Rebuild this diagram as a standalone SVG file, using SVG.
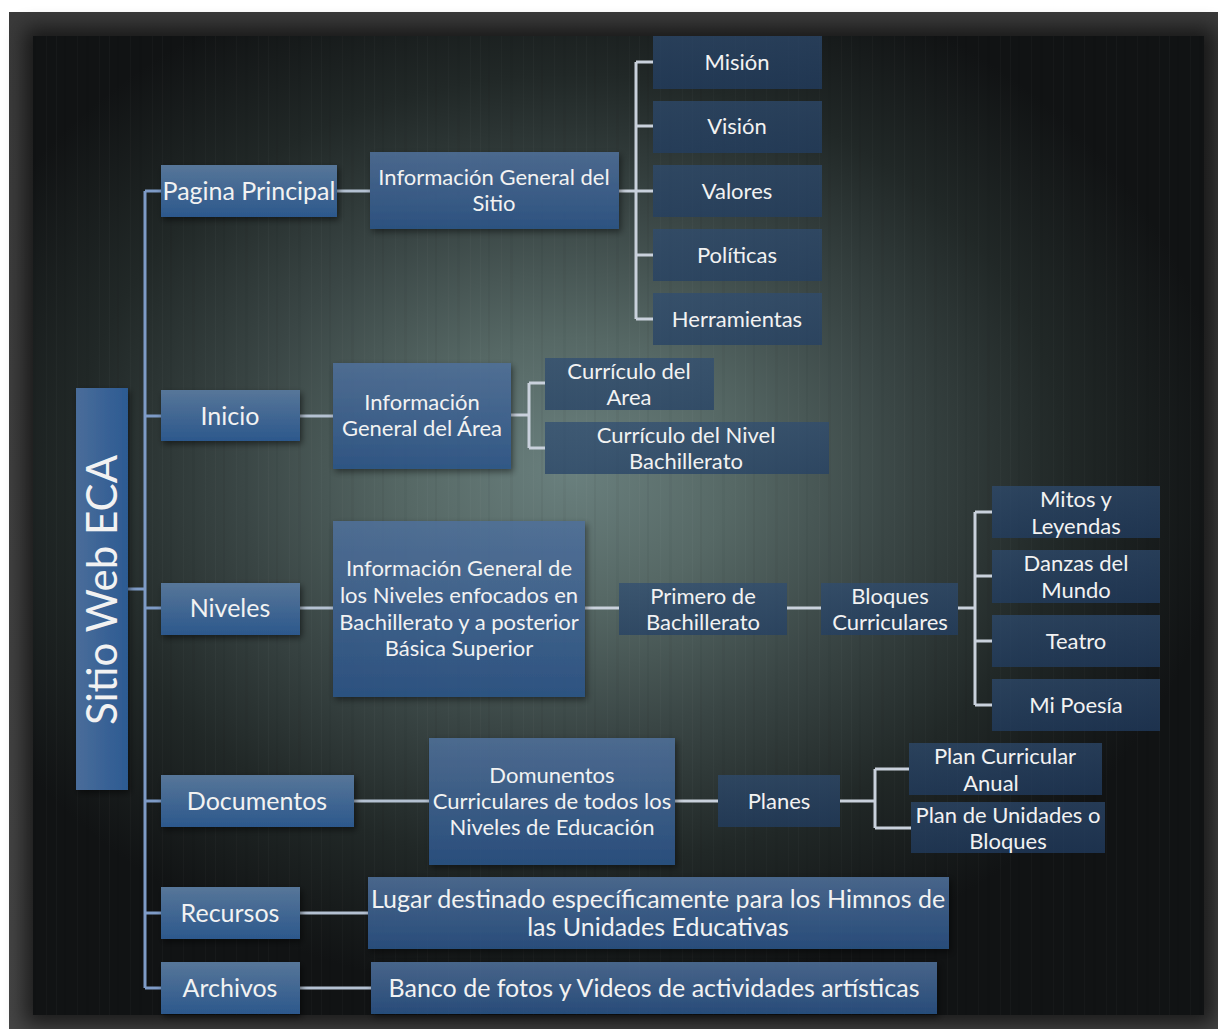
<svg xmlns="http://www.w3.org/2000/svg" width="1218" height="1029" viewBox="0 0 1218 1029">
<defs>
<radialGradient id="glow" cx="570" cy="470" r="660" gradientUnits="userSpaceOnUse" gradientTransform="translate(570 470) scale(1 0.8) translate(-570 -470)">
<stop offset="0" stop-color="#6a807e"/>
<stop offset="0.25" stop-color="#566865"/>
<stop offset="0.5" stop-color="#3a4645"/>
<stop offset="0.75" stop-color="#212827"/>
<stop offset="1" stop-color="#111314"/>
</radialGradient>
<pattern id="wood" width="53" height="400" patternUnits="userSpaceOnUse">
<rect x="3" width="1" height="400" fill="#ffffff" opacity="0.025"/>
<rect x="11" width="2" height="400" fill="#000000" opacity="0.04"/>
<rect x="24" width="1" height="400" fill="#ffffff" opacity="0.02"/>
<rect x="33" width="3" height="400" fill="#000000" opacity="0.03"/>
<rect x="46" width="1" height="400" fill="#ffffff" opacity="0.02"/>
</pattern>
<linearGradient id="frame" x1="0" y1="0" x2="0" y2="1">
<stop offset="0" stop-color="#3a3a3a"/>
<stop offset="1" stop-color="#454545"/>
</linearGradient>
<linearGradient id="g1" x1="0" y1="0" x2="0" y2="1">
<stop offset="0" stop-color="#577699"/>
<stop offset="1" stop-color="#2c588c"/>
</linearGradient>
<linearGradient id="gt" x1="0" y1="0" x2="1" y2="0">
<stop offset="0" stop-color="#4a6d9a"/>
<stop offset="1" stop-color="#2c5a92"/>
</linearGradient>
<linearGradient id="g2" x1="0" y1="0" x2="0" y2="1">
<stop offset="0" stop-color="#50709a"/>
<stop offset="1" stop-color="#2b5488"/>
</linearGradient>
<linearGradient id="g3" x1="0" y1="0" x2="0" y2="1">
<stop offset="0" stop-color="#2e4c72"/>
<stop offset="1" stop-color="#223f66"/>
</linearGradient>
<filter id="sh" x="-20%" y="-20%" width="140%" height="150%">
<feGaussianBlur in="SourceAlpha" stdDeviation="3"/>
<feOffset dx="2" dy="3" result="b"/>
<feComponentTransfer><feFuncA type="linear" slope="0.5"/></feComponentTransfer>
<feMerge><feMergeNode/><feMergeNode in="SourceGraphic"/></feMerge>
</filter>
<filter id="fs" x="-5%" y="-5%" width="110%" height="110%">
<feGaussianBlur stdDeviation="10"/>
</filter>
</defs>
<style>
.t{font-family:Lato,"Open Sans","Liberation Sans",sans-serif;fill:#f2f2f2;text-anchor:middle}
.s24{font-size:25px}
.s20{font-size:22px}
.s23{font-size:25px}
.n1{fill:url(#g1);filter:url(#sh)}
.n2{fill:url(#g2);opacity:0.88;filter:url(#sh)}
.n3{fill:url(#g3);opacity:0.7}
.c1{stroke:#7e9bc7;stroke-width:3;fill:none}
.c2{stroke:#b4c1d2;stroke-width:3;fill:none}
.c3{stroke:#c9d1dc;stroke-width:3;fill:none}
</style>
<rect x="0" y="0" width="1218" height="1029" fill="#ffffff"/>
<rect x="9" y="12" width="1209" height="1017" fill="url(#frame)"/>
<rect x="25" y="28" width="1189" height="997" fill="#000" opacity="0.6" filter="url(#fs)"/>
<rect x="33" y="36" width="1171" height="979" fill="url(#glow)"/>
<rect x="33" y="36" width="1171" height="979" fill="url(#wood)"/>

<g id="connectors">
<path class="c1" d="M145,191 V988 M128,589 H145 M145,191 H161 M145,416 H161 M145,608 H161 M145,801 H161 M145,913 H161 M145,988 H161"/>
<path class="c2" d="M337,191 H370 M300,416 H333 M300,608 H333 M354,801 H429 M300,913 H368 M300,988 H371"/>
<path class="c3" d="M619,191 H636 M636,62 V319 M636,62 H653 M636,126 H653 M636,191 H653 M636,255 H653 M636,319 H653"/>
<path class="c3" d="M511,415 H529 M529,383 V448 M529,383 H545 M529,448 H545"/>
<path class="c3" d="M585,608 H619 M787,608 H821 M958,608 H975 M975,512 V705 M975,512 H992 M975,576 H992 M975,641 H992 M975,705 H992"/>
<path class="c3" d="M675,801 H718 M840,801 H875 M875,769 V828 M875,769 H909 M875,828 H911"/>
</g>

<g id="root">
<rect x="76" y="388" width="52" height="402" fill="url(#gt)" filter="url(#sh)"/>
<text class="t" font-size="42" transform="translate(117 590) rotate(-90)" x="0" y="0">Sitio Web ECA</text>
</g>

<g id="pagina"><rect class="n1" x="161" y="165" width="176" height="52"/><text class="t s24" x="249" y="200">Pagina Principal</text></g>
<g id="inicio"><rect class="n1" x="161" y="390" width="139" height="51"/><text class="t s24" x="230" y="425">Inicio</text></g>
<g id="niveles"><rect class="n1" x="161" y="583" width="139" height="52"/><text class="t s24" x="230" y="617">Niveles</text></g>
<g id="documentos"><rect class="n1" x="161" y="775" width="193" height="52"/><text class="t s24" x="257" y="810">Documentos</text></g>
<g id="recursos"><rect class="n1" x="161" y="887" width="139" height="52"/><text class="t s24" x="230" y="922">Recursos</text></g>
<g id="archivos"><rect class="n1" x="161" y="962" width="139" height="52"/><text class="t s24" x="230" y="997">Archivos</text></g>

<g id="info-sitio"><rect class="n2" x="370" y="152" width="249" height="77"/><text class="t s20"><tspan x="494" y="185">Información General del</tspan><tspan x="494" y="211">Sitio</tspan></text></g>
<g id="info-area"><rect class="n2" x="333" y="363" width="178" height="106"/><text class="t s20"><tspan x="422" y="410">Información</tspan><tspan x="422" y="436">General del Área</tspan></text></g>
<g id="info-niveles"><rect class="n2" x="333" y="521" width="252" height="176"/><text class="t s20"><tspan x="459" y="576">Información General de</tspan><tspan x="459" y="603">los Niveles enfocados en</tspan><tspan x="459" y="630">Bachillerato y a posterior</tspan><tspan x="459" y="656">Básica Superior</tspan></text></g>
<g id="domunentos"><rect class="n2" x="429" y="738" width="246" height="127"/><text class="t s20"><tspan x="552" y="783">Domunentos</tspan><tspan x="552" y="809">Curriculares de todos los</tspan><tspan x="552" y="835">Niveles de Educación</tspan></text></g>
<g id="lugar"><rect class="n2" x="368" y="877" width="581" height="72"/><text class="t s23"><tspan x="658" y="908">Lugar destinado específicamente para los Himnos de</tspan><tspan x="658" y="936">las Unidades Educativas</tspan></text></g>
<g id="banco"><rect class="n2" x="371" y="962" width="566" height="52"/><text class="t s23" x="654" y="997">Banco de fotos y Videos de actividades artísticas</text></g>

<g id="mision"><rect class="n3" x="653" y="36" width="169" height="53"/><text class="t s20" x="737" y="70">Misión</text></g>
<g id="vision"><rect class="n3" x="653" y="101" width="169" height="52"/><text class="t s20" x="737" y="134">Visión</text></g>
<g id="valores"><rect class="n3" x="653" y="165" width="169" height="52"/><text class="t s20" x="737" y="199">Valores</text></g>
<g id="politicas"><rect class="n3" x="653" y="229" width="169" height="52"/><text class="t s20" x="737" y="263">Políticas</text></g>
<g id="herramientas"><rect class="n3" x="653" y="293" width="169" height="52"/><text class="t s20" x="737" y="327">Herramientas</text></g>

<g id="curr-area"><rect class="n3" x="545" y="358" width="169" height="52"/><text class="t s20"><tspan x="629" y="379">Currículo del</tspan><tspan x="629" y="405">Area</tspan></text></g>
<g id="curr-nivel"><rect class="n3" x="545" y="422" width="284" height="52"/><text class="t s20"><tspan x="686" y="443">Currículo del Nivel</tspan><tspan x="686" y="469">Bachillerato</tspan></text></g>

<g id="primero"><rect class="n3" x="619" y="583" width="168" height="52"/><text class="t s20"><tspan x="703" y="604">Primero de</tspan><tspan x="703" y="630">Bachillerato</tspan></text></g>
<g id="bloques"><rect class="n3" x="821" y="583" width="137" height="52"/><text class="t s20"><tspan x="890" y="604">Bloques</tspan><tspan x="890" y="630">Curriculares</tspan></text></g>

<g id="mitos"><rect class="n3" x="992" y="486" width="168" height="52"/><text class="t s20"><tspan x="1076" y="507">Mitos y</tspan><tspan x="1076" y="534">Leyendas</tspan></text></g>
<g id="danzas"><rect class="n3" x="992" y="550" width="168" height="53"/><text class="t s20"><tspan x="1076" y="571">Danzas del</tspan><tspan x="1076" y="598">Mundo</tspan></text></g>
<g id="teatro"><rect class="n3" x="992" y="615" width="168" height="52"/><text class="t s20" x="1076" y="649">Teatro</text></g>
<g id="poesia"><rect class="n3" x="992" y="679" width="168" height="52"/><text class="t s20" x="1076" y="713">Mi Poesía</text></g>

<g id="planes"><rect class="n3" x="718" y="775" width="122" height="52"/><text class="t s20" x="779" y="809">Planes</text></g>
<g id="plan-anual"><rect class="n3" x="909" y="743" width="193" height="52"/><text class="t s20"><tspan x="1005" y="764">Plan Curricular</tspan><tspan x="991" y="791">Anual</tspan></text></g>
<g id="plan-unidades"><rect class="n3" x="911" y="802" width="194" height="51"/><text class="t s20"><tspan x="1008" y="823">Plan de Unidades o</tspan><tspan x="1008" y="849">Bloques</tspan></text></g>
</svg>
